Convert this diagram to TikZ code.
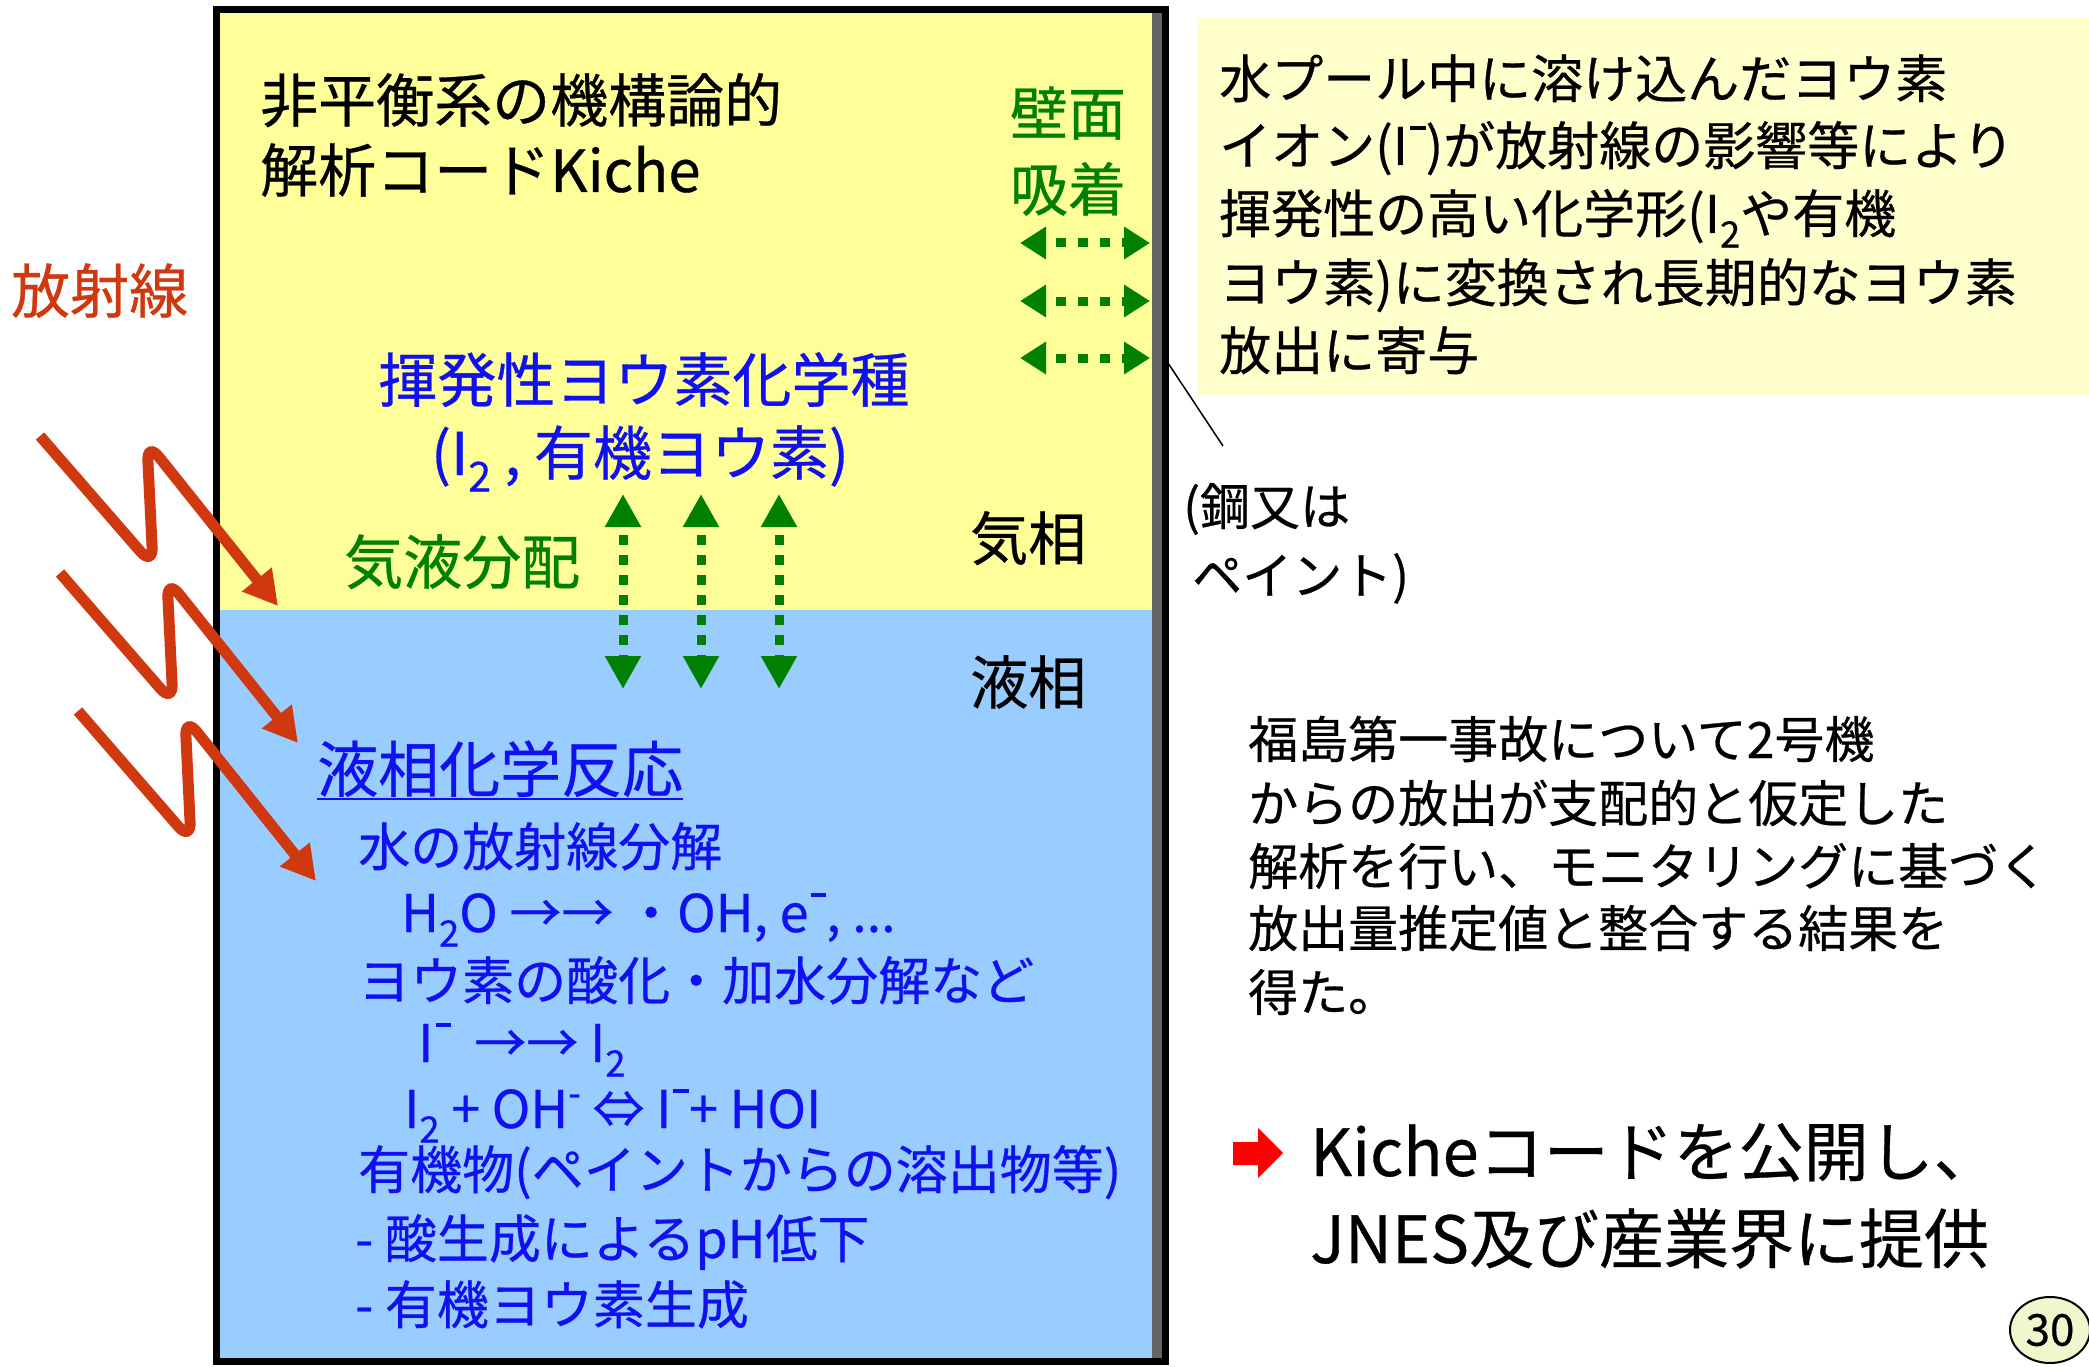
\documentclass[tikz,border=0pt]{standalone}
\usepackage{fontspec}
\usepackage{graphicx}
\setmainfont{Noto Sans CJK JP}[FakeBold=0.5]
\usetikzlibrary{arrows.meta}
\definecolor{gasY}{RGB}{255,255,153}
\definecolor{liqB}{RGB}{153,204,255}
\definecolor{txtB}{RGB}{16,16,240}
\definecolor{grnC}{RGB}{0,128,0}
\definecolor{radR}{RGB}{208,56,16}
\definecolor{noteY}{RGB}{255,255,204}
\definecolor{wallG}{RGB}{100,100,100}
\definecolor{pageY}{RGB}{242,246,205}
\newcommand{\lsub}[1]{\raisebox{-0.28em}{\scalebox{0.7}{#1}}}
\newcommand{\lsup}[1]{\raisebox{0.42em}{\scalebox{0.7}{#1}}}
\newcommand{\ovm}{\hspace{0.04em}\rule[0.68em]{0.3em}{0.07em}}
\begin{document}
\begin{tikzpicture}[x=1pt,y=-1pt,
  tx/.style={inner sep=0pt, anchor=base west},
  txc/.style={inner sep=0pt, anchor=base},
  fTitle/.style={font=\fontsize{58}{70}\selectfont},
  fBig/.style={font=\fontsize{59}{70}\selectfont},
  fHead/.style={font=\fontsize{61}{70}\selectfont},
  fList/.style={font=\fontsize{52}{66}\selectfont},
  fNote/.style={font=\fontsize{52}{68}\selectfont},
  fRes/.style={font=\fontsize{50}{63}\selectfont},
  fKi/.style={font=\fontsize{65}{80}\selectfont},
  radarrow/.style={radR, line width=11pt, rounded corners=19pt, -{Triangle[length=34pt,width=36pt]}},
  vdash/.style={grnC, line width=9pt, dash pattern=on 10pt off 10pt, dash phase=10pt, {Triangle[length=33pt,width=34pt]}-{Triangle[length=33pt,width=34pt]}},
  hdash/.style={grnC, line width=9pt, dash pattern=on 10pt off 12pt, dash phase=10pt, {Triangle[length=26pt,width=31pt]}-{Triangle[length=26pt,width=31pt]}}
]
\useasboundingbox (0,0) rectangle (2089,1367);
\fill[white] (0,0) rectangle (2089,1367);
% note box
\fill[noteY] (1197,18) rectangle (2089,395);
% vessel
\fill[gasY] (216,10) rectangle (1165,610);
\fill[liqB] (216,610) rectangle (1165,1361);
\fill[wallG] (1152,10) rectangle (1162,1361);
\draw[line width=7pt] (216.5,10) rectangle (1165,1361);

% radiation arrows
\foreach \dx/\dy [count=\i] in {0/0, 20/137, 38/275} {
  \coordinate (rS\i) at (40+\dx,436+\dy);
  \coordinate (rB\i) at (153+\dx,566+\dy);
  \coordinate (rC\i) at (147+\dx,442+\dy);
  \coordinate (rT\i) at (278+\dx,606+\dy);
  \draw[radarrow] (rS\i) -- (rB\i) -- (rC\i) -- (rT\i);
}

% gas-liquid arrows
\foreach \x [count=\i] in {623,701,779} {
  \coordinate (vt\i) at (\x,494);
  \coordinate (vb\i) at (\x,689);
  \draw[vdash] (vt\i) -- (vb\i);
}
% wall arrows
\foreach \y [count=\i] in {243,301,358} {
  \coordinate (hl\i) at (1020,\y);
  \coordinate (hr\i) at (1150,\y);
  \draw[hdash] (hl\i) -- (hr\i);
}

% texts in vessel
\node[tx,fTitle] (t1) at (260,122) {非平衡系の機構論的};
\node[tx,fTitle] (t2) at (260,192) {解析コードKiche};
\node[tx,fBig,text=radR] (rad) at (11,313) {放射線};
\node[txc,fBig,text=txtB] (vol1) at (644,402) {揮発性ヨウ素化学種};
\node[txc,fBig,text=txtB] (vol2) at (640,475) {(I\lsub{2} , 有機ヨウ素)};
\node[tx,fBig,text=grnC] (gl) at (344,584) {気液分配};
\node[tx,fTitle] (gas) at (970,560) {気相};
\node[tx,fTitle] (liq) at (970,704) {液相};
\node[txc,fTitle,text=grnC] (w1) at (1068,135) {壁面};
\node[txc,fTitle,text=grnC] (w2) at (1068,211) {吸着};

\node[tx,fHead,text=txtB] (lh) at (317,792) {液相化学反応};
\draw[txtB,line width=2.5pt] ([yshift=-2pt]lh.south west) -- ([yshift=-2pt]lh.south east);
\node[tx,fList,text=txtB] (l1) at (358,866) {水の放射線分解};
\node[tx,fList,text=txtB] (l2) at (401,932) {H\lsub{2}O →→ ・OH, e\ovm, ...};
\node[tx,fList,text=txtB] (l3) at (358,1000) {ヨウ素の酸化・加水分解など};
\node[tx,fList,text=txtB] (l4) at (418,1062) {I\ovm{}\ \ →→ I\lsub{2}};
\node[tx,fList,text=txtB] (l5) at (404,1128) {I\lsub{2} + OH\lsup{-} ⇔ I\ovm+ HOI};
\node[tx,fList,text=txtB] (l6) at (358,1189) {有機物(ペイントからの溶出物等)};
\node[tx,fList,text=txtB] (l7) at (355,1258) {- 酸生成によるpH低下};
\node[tx,fList,text=txtB] (l8) at (355,1324) {- 有機ヨウ素生成};

% note text
\node[tx,fNote] (n1) at (1219,98) {水プール中に溶け込んだヨウ素};
\node[tx,fNote] (n2) at (1219,165) {イオン(I\ovm)が放射線の影響等により};
\node[tx,fNote] (n3) at (1219,233) {揮発性の高い化学形(I\lsub{2}や有機};
\node[tx,fNote] (n4) at (1219,302) {ヨウ素)に変換され長期的なヨウ素};
\node[tx,fNote] (n5) at (1219,370) {放出に寄与};

% wall material
\coordinate (wallpt) at (1166,360);
\coordinate (leadend) at (1223,446);
\draw[line width=1.5pt] (wallpt) -- (leadend);
\node[tx,fRes] (s1) at (1183,525) {(鋼又は};
\node[tx,fRes] (s2) at (1192,594) {ペイント)};

% result text
\node[tx,fRes] (r1) at (1248,758) {福島第一事故について2号機};
\node[tx,fRes] (r2) at (1248,822) {からの放出が支配的と仮定した};
\node[tx,fRes] (r3) at (1248,885) {解析を行い、モニタリングに基づく};
\node[tx,fRes] (r4) at (1248,947) {放出量推定値と整合する結果を};
\node[tx,fRes] (r5) at (1248,1011) {得た。};

% conclusion
\fill[red] (1233,1142) -- (1258,1142) -- (1258,1128) -- (1283,1153) -- (1258,1178) -- (1258,1165) -- (1233,1165) -- cycle;
\node[tx,fKi] (k1) at (1310,1176) {Kicheコードを公開し、};
\node[tx,fKi] (k2) at (1310,1263) {JNES及び産業界に提供};

% page number
\draw[fill=pageY, line width=2pt] (2050,1330) ellipse [x radius=40pt, y radius=33pt];
\node[font=\fontsize{44}{50}\selectfont, inner sep=0pt] (pg) at (2050,1330) {30};
\end{tikzpicture}
\end{document}
